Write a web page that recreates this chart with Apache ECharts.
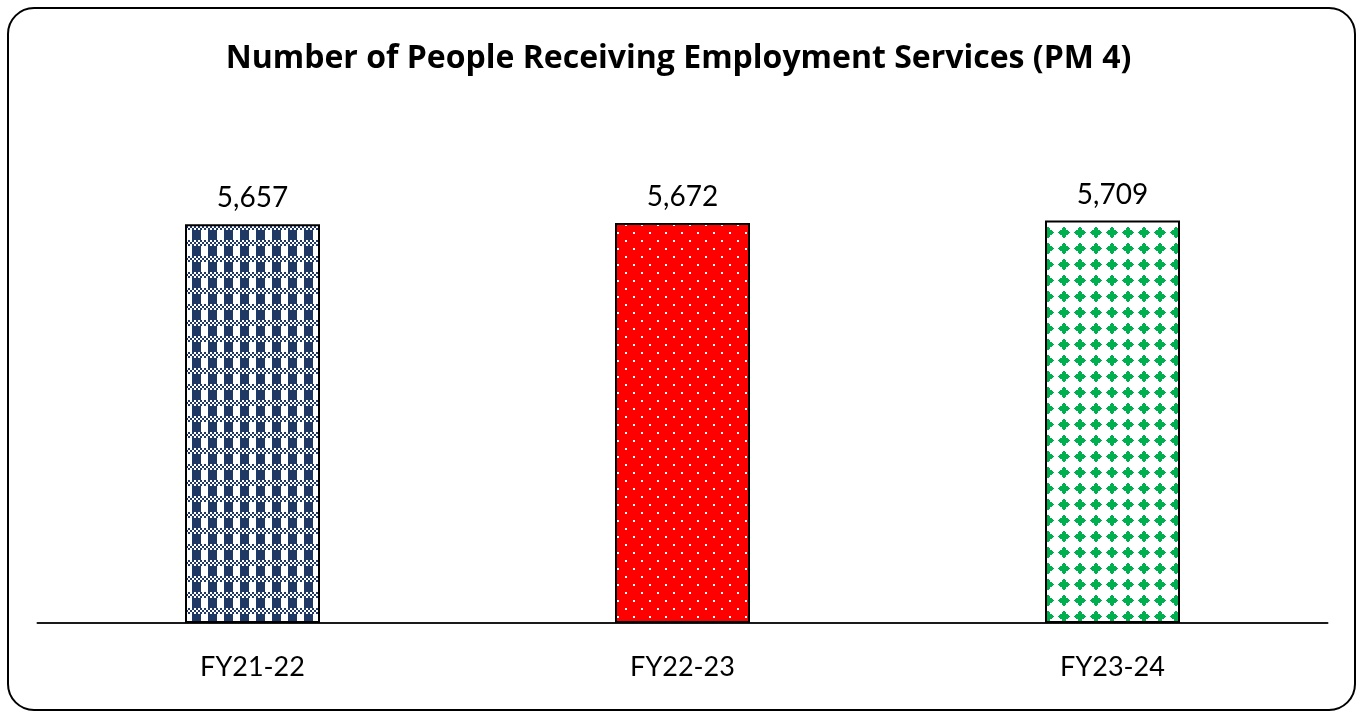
<!DOCTYPE html>
<html>
<head>
<meta charset="utf-8">
<script src="https://cdn.jsdelivr.net/npm/echarts@6/dist/echarts.min.js"></script>
<style>
  html, body { margin: 0; padding: 0; background: #fff; }
  #chart { width: 1357px; height: 712px; }
</style>
</head>
<body>
<div id="chart"></div>
<script>
const titleText = 'Number of People Receiving Employment Services (PM 4)';
const categories = ['FY21-22', 'FY22-23', 'FY23-24'];
const values = [5657, 5672, 5709];

const NAVY = '#1F3864';
const RED = '#FF0000';
const GREEN = '#00B050';

function tile(draw) {
  const c = document.createElement('canvas');
  c.width = 16; c.height = 16;
  const g = c.getContext('2d');
  draw(g);
  return c;
}

// navy plaid: vertical stripes crossed by small checker bands
const plaid = tile(g => {
  g.fillStyle = '#fff'; g.fillRect(0, 0, 16, 16);
  g.fillStyle = NAVY;
  g.fillRect(0, 6, 9, 10);
  for (let y = 0; y < 6; y += 2) {
    for (let x = 0; x < 16; x += 2) {
      if (((x + y) / 2) % 2 === 0) g.fillRect(x, y, 2, 2);
    }
  }
});

// red with small white dots on a staggered grid
const dots = tile(g => {
  g.fillStyle = RED; g.fillRect(0, 0, 16, 16);
  g.fillStyle = '#fff';
  g.fillRect(1, 0, 2, 2);
  g.fillRect(9, 8, 2, 2);
});

// green stepped diamonds on white
const diamonds = tile(g => {
  g.fillStyle = '#fff'; g.fillRect(0, 0, 16, 16);
  g.fillStyle = GREEN;
  const half = [1, 2, 2, 4, 5, 6, 5, 4, 2, 2, 1];
  half.forEach((h, i) => g.fillRect(8 - h, 3 + i, 2 * h, 1));
});

const fills = [plaid, dots, diamonds];

const chart = echarts.init(document.getElementById('chart'), null, { renderer: 'canvas' });

chart.setOption({
  backgroundColor: '#fff',
  animation: false,
  title: {
    text: titleText,
    left: 'center',
    top: 38,
    textStyle: {
      fontFamily: 'Open Sans',
      fontWeight: 'bold',
      fontSize: 32,
      color: '#000'
    }
  },
  graphic: [{
    type: 'rect',
    shape: { x: 8, y: 8, width: 1347, height: 702, r: 26 },
    style: { fill: 'none', stroke: '#000', lineWidth: 2 },
    silent: true,
    z: 100
  }],
  grid: { left: 37.5, right: 29.5, top: 200, bottom: 89, containLabel: false },
  xAxis: {
    type: 'category',
    data: categories,
    axisTick: { show: false },
    axisLine: { show: true, lineStyle: { color: '#1a1a1a', width: 2 } },
    axisLabel: {
      margin: 31,
      fontFamily: 'Lato',
      fontSize: 27,
      color: '#000'
    }
  },
  yAxis: {
    type: 'value',
    min: 0,
    max: 6000,
    show: false,
    splitLine: { show: false }
  },
  series: [{
    type: 'bar',
    barWidth: 135,
    data: values.map((v, i) => ({
      value: v,
      itemStyle: {
        color: { image: fills[i], repeat: 'repeat' },
        borderColor: '#000',
        borderWidth: 2
      }
    })),
    label: {
      show: true,
      position: 'top',
      distance: 12,
      fontFamily: 'Lato',
      fontSize: 28,
      color: '#000',
      formatter: p => p.value.toLocaleString('en-US')
    }
  }]
});
</script>
</body>
</html>
